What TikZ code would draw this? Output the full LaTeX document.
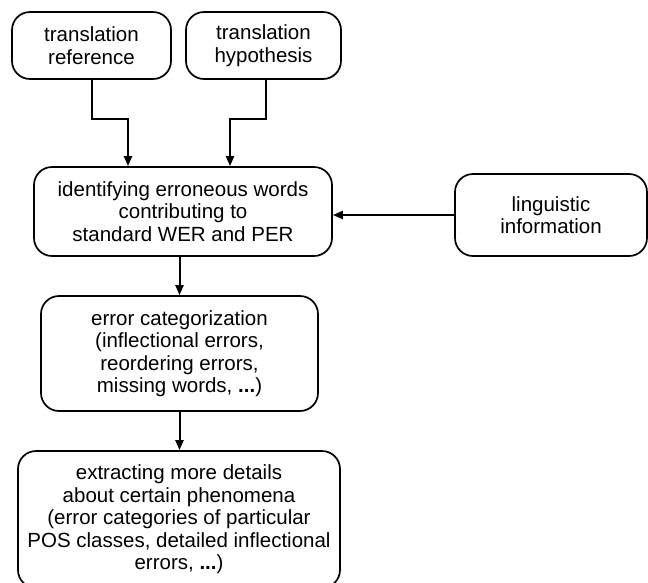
\documentclass[tikz,border=0pt]{standalone}
\usepackage{fontspec}
\setmainfont{Liberation Sans}
\usetikzlibrary{arrows.meta}
\begin{document}
\begin{tikzpicture}[x=1pt,y=1pt,
  box/.style={draw, line width=1.7pt, rounded corners=18pt, inner sep=0pt, align=center,
    font=\fontsize{20.5}{22.5}\selectfont},
  arr/.style={draw, line width=2pt, -{Triangle[length=10pt,width=8pt]}}]
\useasboundingbox (0,0) rectangle (648,-582);
\node[box, minimum width=159pt, minimum height=67pt] (A) at (91.5,-45.5) {translation\\reference};
\node[box, minimum width=155pt, minimum height=67pt] (B) at (263.5,-45.5) {translation\\hypothesis};
\node[box, minimum width=298pt, minimum height=89pt] (C) at (183,-211.5) {identifying erroneous words\\contributing to\\standard WER and PER};
\node[box, minimum width=192pt, minimum height=82pt] (D) at (551,-215) {linguistic\\information};
\node[box, minimum width=277pt, minimum height=115pt] (E) at (179.5,-353.5) {error categorization\\(inflectional errors,\\reordering errors,\\missing words, \textbf{...})};
\node[box, minimum width=322pt, minimum height=137pt] (F) at (179,-519.5) {extracting more details\\about certain phenomena\\(error categories of particular\\POS classes, detailed inflectional\\errors, \textbf{...})};
\draw[arr] (A.south) -- ++(0,-39) -| ([xshift=-55pt]C.north);
\draw[arr] ([xshift=2.5pt]B.south) -- ++(0,-39) -| ([xshift=47pt]C.north);
\draw[arr] (D.west) -- (D.west -| C.east);
\draw[arr] (E.north |- C.south) -- (E.north);
\draw[arr] (E.south) -- (E.south |- F.north);
\end{tikzpicture}
\end{document}
